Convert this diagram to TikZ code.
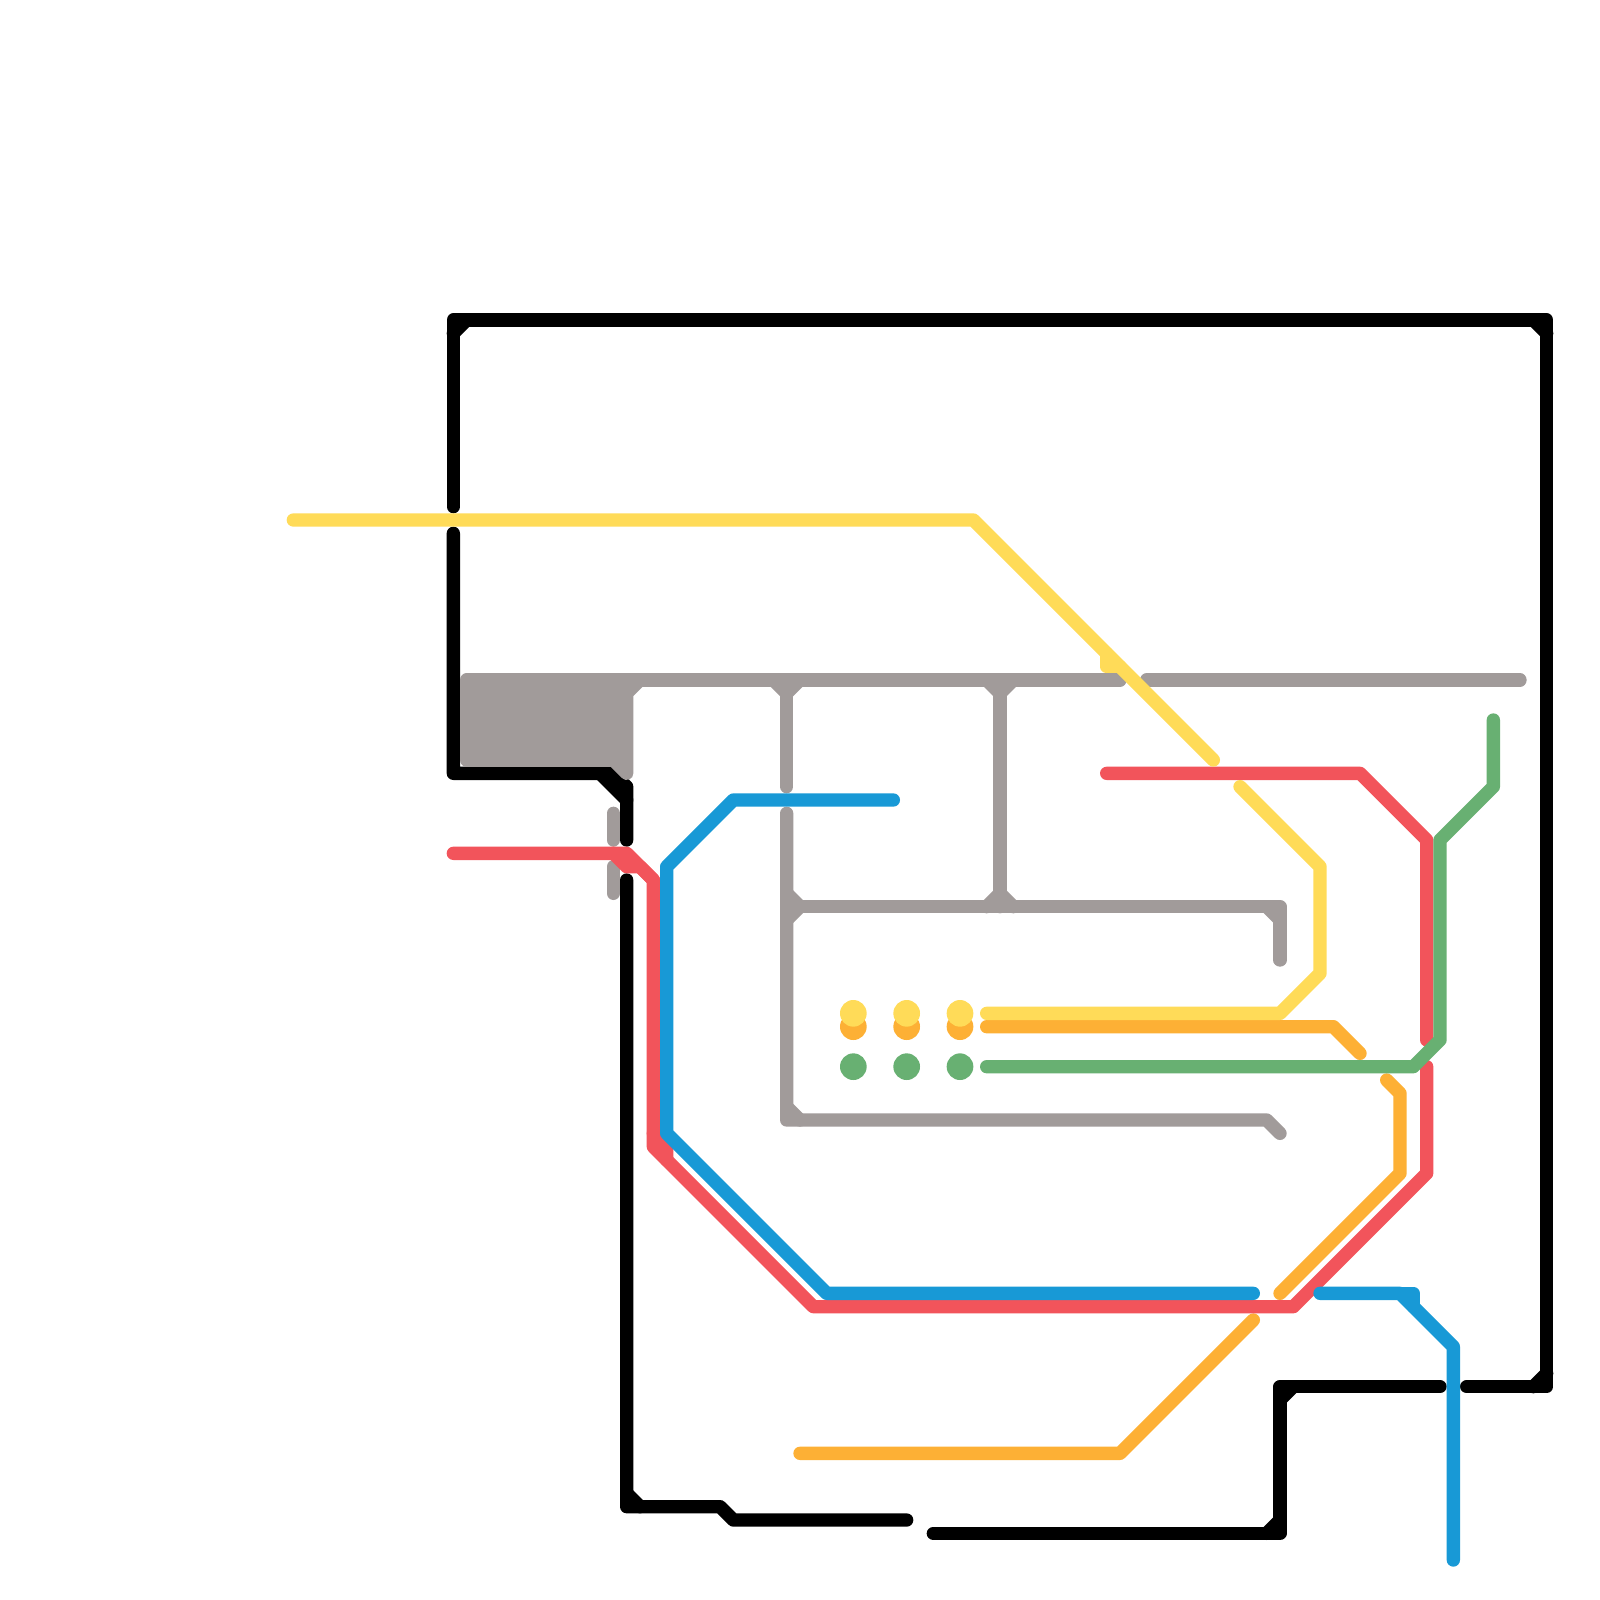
\documentclass[tikz,border=0pt]{standalone}
\usetikzlibrary{positioning}
\definecolor{cblack}{HTML}{000000}
\definecolor{cgrey}{HTML}{A19B9A}
\definecolor{cyellow}{HTML}{FFDB58}
\definecolor{corange}{HTML}{FDB035}
\definecolor{cred}{HTML}{F2545B}
\definecolor{cblue}{HTML}{1899D6}
\definecolor{cgreen}{HTML}{68B072}
\begin{document}
\begin{tikzpicture}[
    x=0.25cm, y=-0.25cm,
    route/.style={draw=#1, line width=0.25cm, line cap=round, line join=round},
    stopdot/.style={circle, fill=#1, minimum size=0.5cm, inner sep=0pt},
]
\fill[white] (0,0) rectangle (120,120);
\useasboundingbox (0,0) rectangle (120,120);

% ============================================================
% BLACK LINE
% ============================================================
\draw[route=cblack] (34,38) -- (34,24) -- (116,24) -- (116,104) -- (110,104);
\draw[route=cblack] (34,25) -- (35,24);
\draw[route=cblack] (115,24) -- (116,25);
\draw[route=cblack] (116,103) -- (115,104);

\draw[route=cblack] (34,40) -- (34,58) -- (46,58) -- (47,59) -- (47,63);
\draw[route=cblack] (45,58) -- (47,60);

\draw[route=cblack] (47,66) -- (47,113) -- (54,113) -- (55,114) -- (68,114);
\draw[route=cblack] (47,112) -- (48,113);

\draw[route=cblack] (70,115) -- (96,115) -- (96,104) -- (108,104);
\draw[route=cblack] (95,115) -- (96,114);
\draw[route=cblack] (96,105) -- (97,104);

% ============================================================
% GREY LINE
% ============================================================
\draw[route=cgrey, fill=cgrey] (35,51) rectangle (47,57);
\draw[route=cgrey] (46,57) -- (47,58) -- (47,52) -- (48,51);
\draw[route=cgrey] (47,51) -- (84,51);
\draw[route=cgrey] (86,51) -- (114,51);

% Verticals from the top run
\draw[route=cgrey] (59,51) -- (59,59);
\draw[route=cgrey] (58,51) -- (59,52) -- (60,51);
\draw[route=cgrey] (75,51) -- (75,68);
\draw[route=cgrey] (74,51) -- (75,52) -- (76,51);
\draw[route=cgrey] (74,68) -- (75,67) -- (76,68);

% Inner box
\draw[route=cgrey] (59,61) -- (59,84) -- (95,84) -- (96,85);
\draw[route=cgrey] (59,83) -- (60,84);
\draw[route=cgrey] (59,68) -- (96,68) -- (96,72);
\draw[route=cgrey] (59,67) -- (60,68) -- (59,69);
\draw[route=cgrey] (95,68) -- (96,69);

% Short pieces
\draw[route=cgrey] (46,61) -- (46,63);
\draw[route=cgrey] (46,65) -- (46,67);

% ============================================================
% ORANGE LINE
% ============================================================
\draw[route=corange] (74,77) -- (100,77) -- (102,79);
\draw[route=corange] (104,81) -- (105,82) -- (105,88) -- (96,97);
\draw[route=corange] (94,99) -- (84,109) -- (60,109);

% ============================================================
% RED LINE
% ============================================================
\draw[route=cred] (34,64) -- (47,64) -- (49,66) -- (49,86) -- (61,98)
    -- (97,98) -- (107,88) -- (107,80);
\draw[route=cred] (107,78) -- (107,63) -- (102,58) -- (83,58);
\draw[route=cred] (46,64) -- (47,65) -- (48,65) -- (49,66);
\draw[route=cred] (49,85) -- (50,86) -- (50,87);

% ============================================================
% BLUE LINE
% ============================================================
\draw[route=cblue] (67,60) -- (55,60) -- (50,65) -- (50,85) -- (62,97) -- (94,97);
\draw[route=cblue] (99,97) -- (105,97) -- (109,101) -- (109,117);
\draw[route=cblue] (105,97) -- (106,97) -- (106,98);

% ============================================================
% GREEN LINE
% ============================================================
\draw[route=cgreen] (74,80) -- (106,80) -- (108,78) -- (108,63) -- (112,59) -- (112,54);

% ============================================================
% YELLOW LINE
% ============================================================
\draw[route=cyellow] (22,39) -- (73,39) -- (91,57);
\draw[route=cyellow] (83,49) -- (83,50) -- (84,50);
\draw[route=cyellow] (93,59) -- (99,65) -- (99,73) -- (96,76) -- (74,76);

% ============================================================
% STOPS
% ============================================================
\foreach \x/\n in {64/a,68/b,72/c} {
    \node[stopdot=corange] (orange\n) at (\x,77) {};
    \node[stopdot=cyellow] (yellow\n) at (\x,76) {};
    \node[stopdot=cgreen] (green\n) at (\x,80) {};
}

\end{tikzpicture}
\end{document}
